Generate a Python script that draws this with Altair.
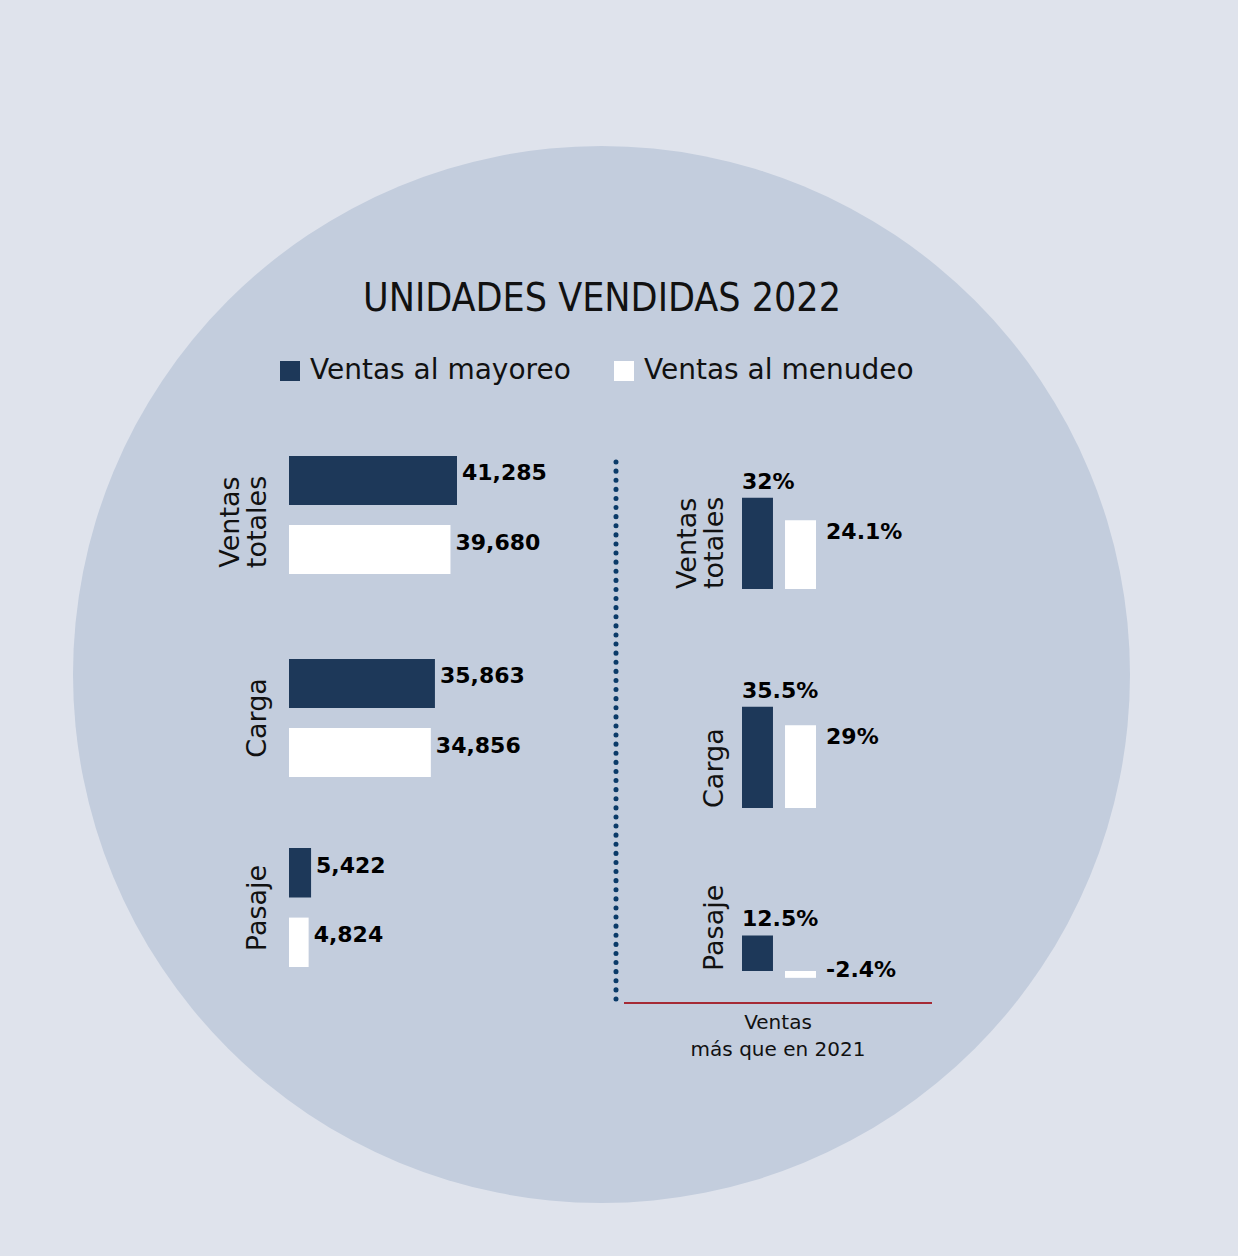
import altair as alt
import pandas as pd

# ---------------- data ----------------
title_text = "UNIDADES VENDIDAS 2022"
categories = ["Ventas totales", "Carga", "Pasaje"]
series = ["Ventas al mayoreo", "Ventas al menudeo"]
units_mayoreo = [41285, 35863, 5422]
units_menudeo = [39680, 34856, 4824]
growth_mayoreo = [32, 35.5, 12.5]
growth_menudeo = [24.1, 29, -2.4]
caption_text = "Ventas\nmás que en 2021"

# ---------------- style ----------------
BG = "#dfe3ec"
CIRCLE = "#c3cddd"
DARK = "#1d3859"
WHITE = "#ffffff"
INK = "#111111"
FONT = "DejaVu Sans"
TITLE_FONT = "Liberation Sans Narrow, DejaVu Sans Condensed, sans-serif"
LH = 27  # line height of rotated category labels


def table(a, b):
    rows = []
    for i, c in enumerate(categories):
        rows.append({"group": c, "series": series[0], "value": a[i]})
        rows.append({"group": c, "series": series[1], "value": b[i]})
    return pd.DataFrame(rows)


units = table(units_mayoreo, units_menudeo)
growth = table(growth_mayoreo, growth_menudeo)

one = pd.DataFrame({"k": [0]})

legend = alt.Legend(
    title=None, orient="none", legendX=276, legendY=357, direction="horizontal",
    symbolType="square", symbolSize=400, symbolStrokeWidth=0, symbolOpacity=1,
    labelFontSize=28, labelFont=FONT, labelColor=INK, labelOffset=6,
    columnPadding=39, labelLimit=0,
)
color_enc = alt.Color("series:N", scale=alt.Scale(domain=series, range=[DARK, WHITE]), legend=legend)

layers = []

# background circle (Vega symbol size = square of diameter)
layers.append(
    alt.Chart(one).mark_circle(size=1057 ** 2, color=CIRCLE, opacity=1, strokeWidth=0)
    .encode(x=alt.value(601.5), y=alt.value(674.5))
)

# title
layers.append(
    alt.Chart(pd.DataFrame({"t": [title_text]}))
    .mark_text(font=TITLE_FONT, fontSize=39, align="center", baseline="alphabetic", color=INK)
    .encode(x=alt.value(602), y=alt.value(311), text="t:N")
)

# ---------------- left: units sold ----------------
xL = alt.Scale(domain=[0, 45000], range=[289, 289 + 45000 * 168 / 41285], nice=False)
left_ranges = [(456, 574), (659, 777), (848, 967)]
left_label_centers = [522, 718, 908]

for i, cat in enumerate(categories):
    d = units[units.group == cat]
    yl = alt.Scale(type="band", domain=series, range=list(left_ranges[i]),
                   paddingInner=0.29, paddingOuter=0)
    xenc = alt.X("value:Q", scale=xL, axis=None)
    yenc = alt.Y("series:N", scale=yl, axis=None)
    layers.append(alt.Chart(d).mark_bar().encode(x=xenc, y=yenc, color=color_enc))
    layers.append(
        alt.Chart(d).mark_text(align="left", baseline="middle", dx=5, dy=-7, font=FONT,
                               fontSize=22, fontWeight="bold", color="#000000")
        .encode(x=xenc, y=yenc, text=alt.Text("value:Q", format=","))
    )
    nlines = len(cat.split(" "))
    layers.append(
        alt.Chart(pd.DataFrame({"group": [cat]}))
        .mark_text(angle=270, align="center", baseline="bottom", lineBreak=" ", lineHeight=LH,
                   font=FONT, fontSize=27, color=INK)
        .encode(x=alt.value(272 - LH * (nlines - 1)), y=alt.value(left_label_centers[i]),
                text="group:N")
    )

# ---------------- right: growth vs 2021 ----------------
PX = 2.85
xR = alt.Scale(type="band", domain=series, range=[742, 816], paddingInner=0.28, paddingOuter=0)
right_bases = [589, 808, 971]
HALF_BAND = 15.5

for i, cat in enumerate(categories):
    d = growth[growth.group == cat]
    base = right_bases[i]
    yr = alt.Scale(domain=[-10, 40], range=[base + 10 * PX, base - 40 * PX], nice=False)
    xenc = alt.X("series:N", scale=xR, axis=None)
    layers.append(
        alt.Chart(d).mark_bar().encode(
            x=xenc, y=alt.Y("value:Q", scale=yr, axis=None), y2=alt.datum(0), color=color_enc
        )
    )
    # label above dark bar
    layers.append(
        alt.Chart(d).transform_filter(alt.datum.series == series[0])
        .transform_calculate(lab="datum.value + '%'")
        .mark_text(align="left", baseline="alphabetic", dx=-HALF_BAND, dy=-9, font=FONT,
                   fontSize=22, fontWeight="bold", color="#000000")
        .encode(x=xenc, y=alt.Y("value:Q", scale=yr, axis=None), text="lab:N")
    )
    # label right of white bar
    layers.append(
        alt.Chart(d).transform_filter(alt.datum.series == series[1])
        .transform_calculate(lab="datum.value + '%'", ly="max(datum.value, 4.5)")
        .mark_text(align="left", baseline="top", dx=HALF_BAND + 10, dy=2, font=FONT,
                   fontSize=22, fontWeight="bold", color="#000000")
        .encode(x=xenc, y=alt.Y("ly:Q", scale=yr, axis=None), text="lab:N")
    )
    nlines = len(cat.split(" "))
    layers.append(
        alt.Chart(pd.DataFrame({"group": [cat]}))
        .mark_text(angle=270, align="left", baseline="bottom", lineBreak=" ", lineHeight=LH,
                   font=FONT, fontSize=27, color=INK)
        .encode(x=alt.value(729 - LH * (nlines - 1)), y=alt.value(base), text="group:N")
    )

# dotted separator
layers.append(
    alt.Chart(one).mark_rule(strokeDash=[0.1, 9], strokeCap="round", strokeWidth=5, color="#0a3a68")
    .encode(x=alt.value(616), y=alt.value(462), y2=alt.value(1001))
)
# red baseline
layers.append(
    alt.Chart(one).mark_rule(color="#a52a35", strokeWidth=2)
    .encode(x=alt.value(624), x2=alt.value(932), y=alt.value(1003))
)
# caption
layers.append(
    alt.Chart(pd.DataFrame({"t": [caption_text]}))
    .mark_text(align="center", baseline="top", lineBreak="\n", lineHeight=27, font=FONT,
               fontSize=20, color=INK)
    .encode(x=alt.value(778), y=alt.value(1013), text="t:N")
)

chart = (
    alt.layer(*layers)
    .resolve_scale(x="independent", y="independent")
    .properties(width=1238, height=1256, autosize=alt.AutoSizeParams(type="none"),
                padding=0, background=BG)
    .configure_view(strokeWidth=0)
)

chart.save("out.html", embed_options={"renderer": "svg", "actions": False})
